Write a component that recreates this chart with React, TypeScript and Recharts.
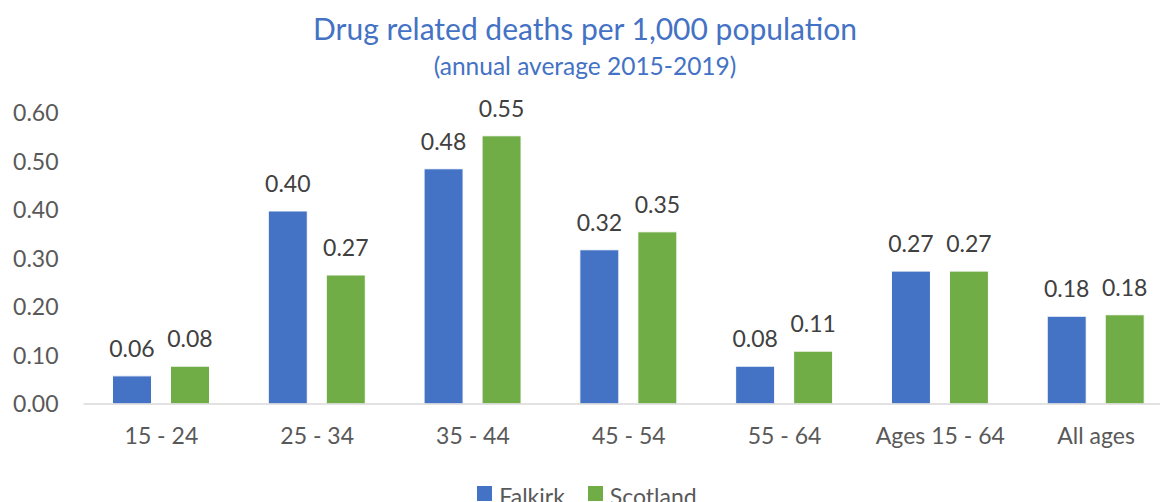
import React from "react";
import { BarChart, Bar, XAxis, YAxis, Legend, LabelList } from "recharts";

const categories = ["15 - 24", "25 - 34", "35 - 44", "45 - 54", "55 - 64", "Ages 15 - 64", "All ages"];
const falkirk = [0.058, 0.398, 0.485, 0.318, 0.078, 0.274, 0.181];
const scotland = [0.078, 0.266, 0.553, 0.355, 0.109, 0.274, 0.184];
const yTicks = [0, 0.1, 0.2, 0.3, 0.4, 0.5, 0.6];

const font = "Lato, 'Open Sans', sans-serif";
const blue = "#4472C4";
const green = "#70AD47";
const tickStyle = { fontSize: 23, fill: "#595959", fontFamily: font } as const;
const labelStyle = { fontSize: 23, fill: "#404040", fontFamily: font } as const;

const data = categories.map((c, i) => ({ name: c, falkirk: falkirk[i], scotland: scotland[i] }));

function LegendBox() {
  const items = [
    { label: "Falkirk", color: blue },
    { label: "Scotland", color: green },
  ];
  return (
    <div style={{ display: "flex", justifyContent: "center", gap: 23, paddingTop: 18, fontFamily: font, fontSize: 23, color: "#595959" }}>
      {items.map((it) => (
        <div key={it.label} style={{ display: "flex", alignItems: "flex-start", gap: 7 }}>
          <span style={{ width: 15, height: 15, background: it.color, display: "inline-block" }} />
          <span style={{ lineHeight: "15px", marginTop: 3 }}>{it.label}</span>
        </div>
      ))}
    </div>
  );
}

export default function App() {
  return (
    <div style={{ position: "fixed", left: 0, top: 0, width: 1160, height: 502, overflow: "hidden", background: "#fff" }}>
      <div style={{ position: "absolute", left: 0, width: 1170, top: 8, textAlign: "center", fontFamily: font, color: blue, fontSize: 30, lineHeight: "40px" }}>
        Drug related deaths per 1,000 population
      </div>
      <div style={{ position: "absolute", left: 0, width: 1170, top: 51, textAlign: "center", fontFamily: font, color: blue, fontSize: 24.5, lineHeight: "30px" }}>
        (annual average 2015-2019)
      </div>
      <BarChart width={1180} height={502} data={data} margin={{ top: 113, right: 6, bottom: 0, left: 0 }} barGap={19}>
        <XAxis
          dataKey="name"
          tick={tickStyle}
          tickLine={false}
          tickSize={0}
          tickMargin={24}
          axisLine={{ stroke: "#D9D9D9", strokeWidth: 1.5 }}
          height={64}
          interval={0}
        />
        <YAxis
          domain={[0, 0.6]}
          ticks={yTicks}
          tick={tickStyle}
          tickLine={false}
          tickSize={0}
          tickMargin={25}
          axisLine={false}
          width={83.5}
          tickFormatter={(v: number) => v.toFixed(2)}
        />
        <Legend verticalAlign="bottom" height={34} content={() => <LegendBox />} />
        <Bar dataKey="falkirk" name="Falkirk" fill={blue} stroke="#fff" strokeWidth={1} barSize={39} isAnimationActive={false}>
          <LabelList dataKey="falkirk" position="top" offset={19} style={labelStyle} formatter={(v: number) => Number(v).toFixed(2)} />
        </Bar>
        <Bar dataKey="scotland" name="Scotland" fill={green} stroke="#fff" strokeWidth={1} barSize={39} isAnimationActive={false}>
          <LabelList dataKey="scotland" position="top" offset={19} style={labelStyle} formatter={(v: number) => Number(v).toFixed(2)} />
        </Bar>
      </BarChart>
    </div>
  );
}
